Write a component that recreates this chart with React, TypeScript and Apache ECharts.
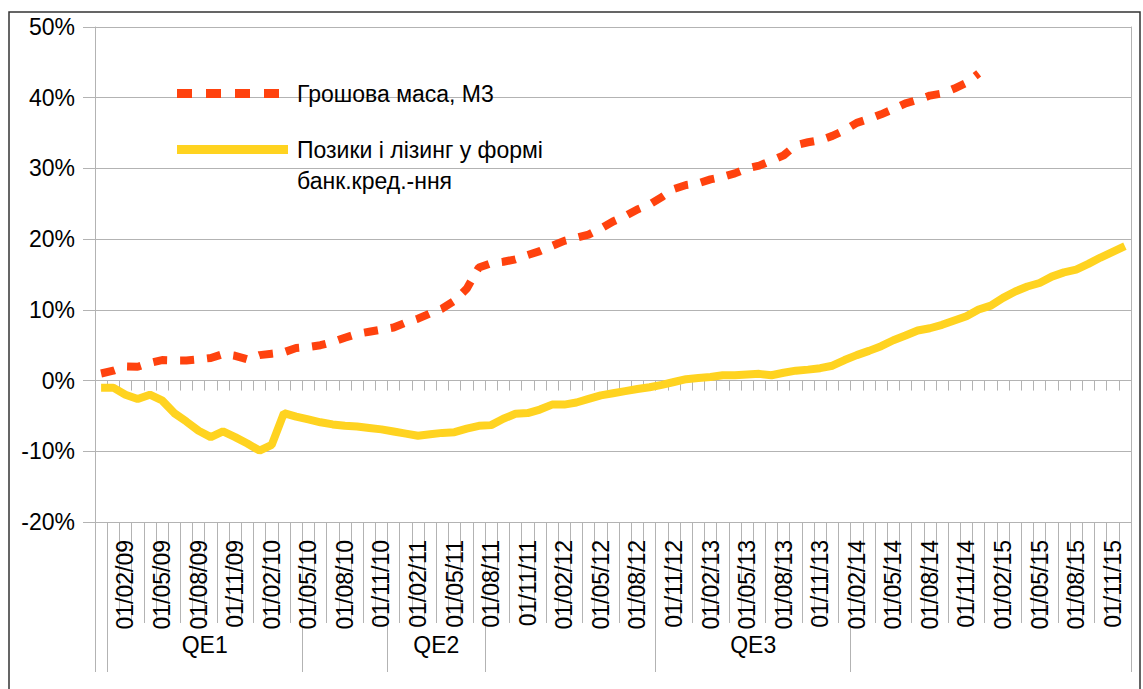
import React, { useEffect, useRef } from "react";
import * as echarts from "echarts";

// Monthly categories, Dec 2008 .. Dec 2015
const categories: string[] = [
  "01/12/08",
  "01/01/09", "01/02/09", "01/03/09", "01/04/09", "01/05/09", "01/06/09", "01/07/09", "01/08/09", "01/09/09", "01/10/09", "01/11/09", "01/12/09",
  "01/01/10", "01/02/10", "01/03/10", "01/04/10", "01/05/10", "01/06/10", "01/07/10", "01/08/10", "01/09/10", "01/10/10", "01/11/10", "01/12/10",
  "01/01/11", "01/02/11", "01/03/11", "01/04/11", "01/05/11", "01/06/11", "01/07/11", "01/08/11", "01/09/11", "01/10/11", "01/11/11", "01/12/11",
  "01/01/12", "01/02/12", "01/03/12", "01/04/12", "01/05/12", "01/06/12", "01/07/12", "01/08/12", "01/09/12", "01/10/12", "01/11/12", "01/12/12",
  "01/01/13", "01/02/13", "01/03/13", "01/04/13", "01/05/13", "01/06/13", "01/07/13", "01/08/13", "01/09/13", "01/10/13", "01/11/13", "01/12/13",
  "01/01/14", "01/02/14", "01/03/14", "01/04/14", "01/05/14", "01/06/14", "01/07/14", "01/08/14", "01/09/14", "01/10/14", "01/11/14", "01/12/14",
  "01/01/15", "01/02/15", "01/03/15", "01/04/15", "01/05/15", "01/06/15", "01/07/15", "01/08/15", "01/09/15", "01/10/15", "01/11/15", "01/12/15",
];

const m3Name = "Грошова маса, М3";
const loansName = "Позики і лізинг у формі\nбанк.кред.-ння";

// Money supply M3, % (Dec 2008 .. Dec 2014)
const m3Values: number[] = [
  1.0, 1.4, 2.0, 1.95, 2.5, 2.9, 2.85, 2.85, 3.0, 3.2, 3.75, 3.5, 3.0,
  3.6, 3.8, 4.0, 4.6, 4.75, 5.0, 5.45, 6.05, 6.6, 6.9, 7.2, 7.5,
  8.2, 8.75, 9.5, 10.2, 11.3, 13.0, 16.0, 16.6, 16.8, 17.15, 17.75, 18.3,
  19.05, 19.75, 20.2, 20.65, 21.5, 22.5, 23.25, 24.2, 24.9, 25.95, 27.1, 27.65,
  27.9, 28.45, 28.8, 29.3, 30.0, 30.4, 31.1, 31.85, 33.3, 33.7, 34.0, 34.6,
  35.4, 36.45, 37.0, 37.65, 38.4, 39.2, 39.7, 40.3, 40.6, 41.3, 42.1, 43.45,
];

// Loans and leases in bank credit, % (Dec 2008 .. Dec 2015)
const loanValues: number[] = [
  -1.0, -1.0, -2.0, -2.6, -2.0, -2.8, -4.6, -5.8, -7.1, -8.0, -7.2, -8.0, -8.9,
  -9.9, -9.1, -4.6, -5.1, -5.5, -5.9, -6.2, -6.4, -6.5, -6.7, -6.9, -7.2,
  -7.5, -7.8, -7.6, -7.4, -7.3, -6.8, -6.4, -6.3, -5.4, -4.7, -4.6, -4.1,
  -3.4, -3.4, -3.1, -2.6, -2.1, -1.8, -1.5, -1.2, -0.95, -0.6, -0.2, 0.2,
  0.35, 0.5, 0.75, 0.75, 0.85, 0.95, 0.75, 1.1, 1.4, 1.55, 1.75, 2.1,
  2.9, 3.6, 4.2, 4.86, 5.7, 6.37, 7.08, 7.4, 7.88, 8.5, 9.1, 10.05,
  10.6, 11.7, 12.6, 13.3, 13.8, 14.7, 15.3, 15.7, 16.5, 17.4, 18.2, 19.0,
];

// Y axis
const yMin = -20;
const yMax = 50;
const yStep = 10;

// Second level of the category axis (category index ranges)
const qeLabels = ["QE1", "QE2", "QE3"];
const qeFrom = [1, 24, 46];
const qeTo = [17, 32, 62];
const groupBounds = [0, 1, 17, 24, 32, 46, 62, 85];

const FONT = "Liberation Sans";
const GRID = "#b3b3b3";

export default function App() {
  const ref = useRef<HTMLDivElement>(null);

  useEffect(() => {
    if (!ref.current) return;
    const chart = echarts.init(ref.current, undefined, { renderer: "svg" });
    const qeCenters = qeLabels.map((_, i) => (qeFrom[i] + qeTo[i]) / 2);

    const option: any = {
      animation: false,
      backgroundColor: "#ffffff",
      textStyle: { fontFamily: FONT },
      grid: { left: 95, right: 12, top: 27, bottom: 167, outerBoundsMode: "none" },
      legend: [
        {
          data: [
            {
              name: m3Name,
              icon: "path://M0,0h15v9h-15zM29,0h15v9h-15zM58,0h15v9h-15zM87,0h15v9h-15zM115,0",
            },
          ],
          left: 177,
          top: 78,
          padding: 0,
          itemWidth: 115,
          itemHeight: 9,
          itemStyle: { borderWidth: 0 },
          textStyle: { fontFamily: FONT, fontSize: 23, color: "#000", lineHeight: 31 },
        },
        {
          data: [{ name: loansName, icon: "path://M0,0h111v9h-111zM115,0" }],
          left: 177,
          top: 103,
          padding: 0,
          itemWidth: 115,
          itemHeight: 9,
          itemStyle: { borderWidth: 0 },
          // a blank leading line keeps the first text line level with the icon
          formatter: (name: string) => " \n" + name,
          textStyle: {
            fontFamily: FONT,
            fontSize: 23,
            color: "#000",
            lineHeight: 31,
          },
        },
      ],
      xAxis: [
        {
          type: "category",
          data: categories,
          position: "bottom",
          axisLine: { show: true, onZero: true, lineStyle: { color: GRID, width: 1 } },
          axisTick: { show: true, interval: 0, length: 10, lineStyle: { color: GRID } },
          axisLabel: { show: false },
          splitLine: { show: false },
        },
        {
          type: "category",
          data: categories,
          position: "bottom",
          axisLine: { show: false, onZero: false },
          axisTick: { show: true, interval: 0, length: 101, lineStyle: { color: GRID } },
          axisLabel: {
            show: true,
            interval: (index: number) => index % 3 === 2,
            rotate: 90,
            margin: 18,
            fontSize: 23,
            fontFamily: FONT,
            color: "#000",
          },
          splitLine: { show: false },
        },
        {
          type: "value",
          min: 0,
          max: 85,
          position: "bottom",
          axisLine: { show: false, onZero: false },
          axisTick: { show: true, customValues: groupBounds, length: 150, lineStyle: { color: GRID } },
          axisLabel: {
            show: true,
            customValues: qeCenters,
            formatter: (v: number) => {
              const k = qeCenters.indexOf(v);
              return k >= 0 ? qeLabels[k] : "";
            },
            margin: 111,
            fontSize: 23,
            fontFamily: FONT,
            color: "#000",
          },
          splitLine: { show: false },
        },
      ],
      yAxis: [
        {
          type: "value",
          min: yMin,
          max: yMax,
          interval: yStep,
          axisLine: { show: true, onZero: false, lineStyle: { color: GRID } },
          axisTick: { show: true, length: 12, lineStyle: { color: GRID } },
          axisLabel: {
            formatter: "{value}%",
            margin: 20,
            fontSize: 23,
            fontFamily: FONT,
            color: "#000",
          },
          splitLine: { show: true, lineStyle: { color: GRID, width: 1 } },
        },
        {
          type: "value",
          min: yMin,
          max: yMax,
          interval: yStep,
          position: "right",
          axisLine: { show: true, onZero: false, lineStyle: { color: GRID } },
          axisTick: { show: false },
          axisLabel: { show: false },
          splitLine: { show: false },
        },
      ],
      series: [
        {
          name: m3Name,
          type: "line",
          data: m3Values,
          xAxisIndex: 0,
          yAxisIndex: 0,
          symbol: "none",
          lineStyle: { color: "#ff420e", width: 8, type: [14, 13], cap: "butt" },
          itemStyle: { color: "#ff420e" },
          z: 3,
        },
        {
          name: loansName,
          type: "line",
          data: loanValues,
          xAxisIndex: 0,
          yAxisIndex: 0,
          symbol: "none",
          lineStyle: { color: "#ffd320", width: 8 },
          itemStyle: { color: "#ffd320" },
          z: 3,
        },
      ],
      graphic: [
        {
          type: "rect",
          silent: true,
          shape: { x: 9, y: 12, width: 1131, height: 700 },
          style: { fill: "none", stroke: "#333", lineWidth: 1.5 },
        },
      ],
    };

    chart.setOption(option);
    return () => chart.dispose();
  }, []);

  return (
    <div
      ref={ref}
      style={{ position: "fixed", left: 0, top: 0, width: 1143, height: 689, background: "#fff" }}
    />
  );
}
